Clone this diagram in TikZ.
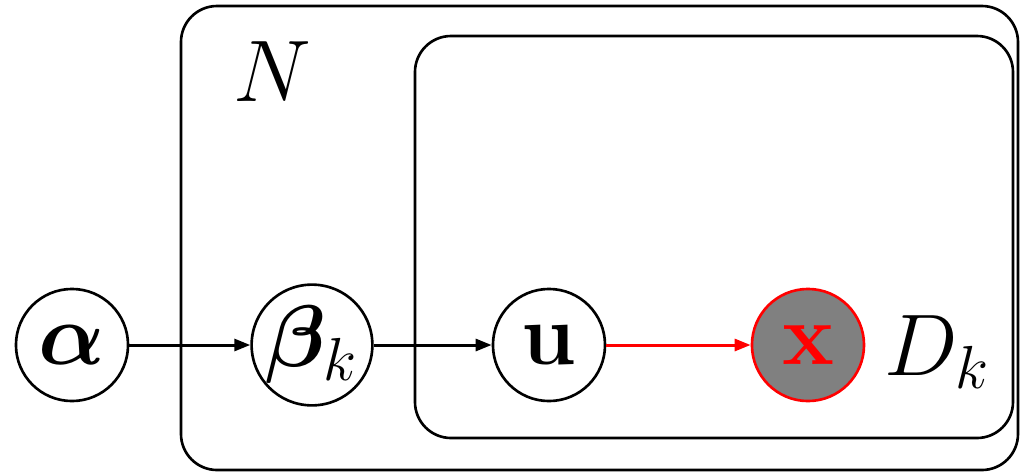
\documentclass[tikz,border=0pt]{standalone}
\usepackage{amsmath,bm}
\usetikzlibrary{arrows.meta}
\begin{document}
\begin{tikzpicture}[x=0.01cm,y=-0.01cm,
  plate/.style={draw,line width=0.75pt,rounded corners=0.36cm},
  var/.style={draw,circle,line width=0.75pt,minimum size=1.12cm,inner sep=0pt},
  obs/.style={var,draw=red,fill=black!50},
  edge/.style={line width=0.85pt,-{Triangle[length=0.16cm,width=0.12cm]}},
  lbl/.style={inner sep=0pt,font=\fontsize{24}{28}\selectfont}]
\useasboundingbox (0,0) rectangle (1020,472);
\draw[plate] (181,6) rectangle (1018,470);
\draw[plate] (415,36) rectangle (1013,438);
\node[var,font=\fontsize{24}{28}\selectfont] (alpha) at (72,345) {$\bm{\alpha}$};
\node[var,font=\fontsize{24}{28}\selectfont] (beta) at (312,345) {$\bm{\beta}_{\scriptstyle k}$};
\node[var,font=\fontsize{29}{32}\selectfont] (u) at (549,345) {$\mathbf{u}$};
\node[obs,font=\fontsize{25}{30}\selectfont] (x) at (808,345) {\textcolor{red}{$\mathbf{x}$}};
\node[lbl] (N) at (272,72) {$N$};
\node[lbl] (D) at (937,352) {$D_{\scriptstyle k}$};
\draw[edge] (alpha) -- (beta);
\draw[edge] (beta) -- (u);
\draw[edge,red] (u) -- (x);
\end{tikzpicture}
\end{document}
